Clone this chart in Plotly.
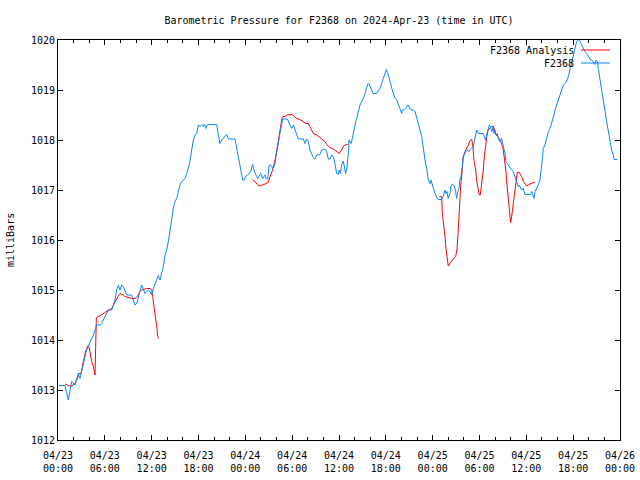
import pandas as pd
import plotly.graph_objects as go

# ---- data (hours after 2024-04-23 00:00 UTC, milliBars) ----
station_pts = [
    (0.1,1013.09),(0.90,1013.09),(1.32,1012.80),(1.54,1013.03),(1.75,1013.17),(2.18,1013.10),(2.39,1013.20),
    (2.60,1013.33),(2.82,1013.23),(2.95,1013.33),(3.12,1013.47),(3.25,1013.53),(3.46,1013.67),(3.67,1013.80),
    (3.89,1013.87),(4.10,1013.93),(4.31,1014.00),(4.53,1014.10),(4.74,1014.20),(4.95,1014.30),(5.38,1014.30),
    (5.59,1014.33),(6.02,1014.47),(6.45,1014.60),(6.88,1014.60),(7.09,1014.73),(7.30,1014.80),(7.52,1015.00),
    (7.73,1015.10),(7.94,1015.00),(8.16,1015.10),(8.37,1015.07),(8.58,1015.00),(8.80,1014.90),(9.44,1014.90),
    (9.65,1014.80),(9.86,1014.70),(10.08,1014.73),(10.29,1014.83),(10.50,1014.97),(10.72,1015.10),(10.93,1015.00),
    (11.15,1014.93),(11.36,1014.97),(11.57,1015.00),(11.79,1014.97),(12.00,1014.90),(12.21,1015.03),(12.43,1015.13),
    (12.64,1015.20),(12.85,1015.29),(13.07,1015.20),(13.28,1015.33),(13.50,1015.47),(13.71,1015.70),(13.92,1015.80),
    (14.14,1015.97),(14.35,1016.20),(14.56,1016.40),(14.78,1016.63),(14.99,1016.77),(15.21,1016.83),(15.42,1016.97),
    (15.63,1017.10),(15.85,1017.17),(16.27,1017.23),(16.49,1017.33),(16.70,1017.47),(16.91,1017.57),(17.13,1017.80),
    (17.34,1018.00),(17.55,1018.10),(17.77,1018.13),(17.98,1018.30),(18.19,1018.27),
    (18.40,1018.30),(18.62,1018.27),(18.70,1018.31),(18.83,1018.30),(18.96,1018.23),(19.13,1018.30),(19.26,1018.31),
    (20.33,1018.31),(20.54,1018.10),(20.75,1017.93),(20.97,1018.00),(21.18,1018.03),(21.39,1018.07),(21.61,1018.11),
    (21.82,1018.03),(22.03,1018.02),(22.68,1018.02),(22.80,1017.87),(22.97,1017.77),(23.10,1017.67),(23.32,1017.47),
    (23.53,1017.30),(23.66,1017.20),(23.83,1017.20),(24.04,1017.27),(24.26,1017.30),(24.51,1017.33),(24.68,1017.37),
    (24.81,1017.47),(24.94,1017.51),(25.11,1017.40),(25.24,1017.33),(25.45,1017.27),(25.58,1017.23),(25.79,1017.30),
    (25.96,1017.33),(26.09,1017.30),(26.22,1017.23),(26.39,1017.27),(26.52,1017.30),(26.65,1017.23),(26.86,1017.22),
    (27.03,1017.47),(27.16,1017.51),(27.37,1017.48),(27.50,1017.43),(27.67,1017.47),(27.80,1017.53),(27.93,1017.70),
    (28.10,1017.80),(28.23,1017.93),(28.36,1018.07),(28.53,1018.23),(28.65,1018.37),(28.78,1018.42),(29.38,1018.42),
    (29.51,1018.38),(29.72,1018.30),(29.93,1018.23),(30.15,1018.30),(30.36,1018.20),(30.57,1018.11),(30.79,1018.02),
    (31.43,1018.02),(31.64,1017.93),(31.85,1018.02),(32.07,1017.97),(32.28,1017.80),(32.50,1017.70),(32.71,1017.65),
    (32.92,1017.62),(33.14,1017.70),(33.56,1017.71),(33.78,1017.80),(34.20,1017.82),(34.42,1017.77),(34.63,1017.62),
    (34.84,1017.62),(35.06,1017.70),(35.27,1017.67),(35.40,1017.60),(35.57,1017.47),(35.70,1017.33),(35.91,1017.31),
    (36.04,1017.40),(36.17,1017.33),(36.34,1017.50),(36.55,1017.58),(36.72,1017.40),(36.85,1017.33),(36.98,1017.40),
    (37.11,1017.57),(37.24,1017.80),
    (37.28,1018.00),(37.41,1017.97),(37.54,1017.93),(37.71,1018.03),(37.84,1018.17),(38.05,1018.30),(38.26,1018.43),
    (38.48,1018.60),(38.69,1018.70),(38.90,1018.77),(39.12,1018.83),(39.33,1018.93),(39.54,1019.03),(39.67,1019.12),
    (39.84,1019.12),(40.10,1019.03),(40.39,1018.93),(40.82,1018.93),(41.04,1018.97),(41.25,1019.03),(41.46,1019.13),
    (41.68,1019.23),(41.89,1019.33),(42.06,1019.41),(42.23,1019.35),(42.40,1019.27),(42.62,1019.13),(42.83,1019.00),
    (43.00,1018.93),(43.18,1018.83),(43.39,1018.80),(43.60,1018.73),(43.81,1018.63),(44.03,1018.53),(44.11,1018.60),
    (44.37,1018.60),(44.54,1018.63),(44.79,1018.70),(44.96,1018.68),(45.09,1018.61),(45.52,1018.60),(45.74,1018.57),
    (45.95,1018.43),(46.16,1018.30),(46.38,1018.20),(46.59,1018.07),(46.81,1017.80),(47.02,1017.60),(47.23,1017.43),
    (47.45,1017.20),(47.66,1017.13),(47.79,1017.20),(47.96,1017.10),(48.08,1017.03),(48.30,1016.93),(48.51,1016.85),
    (48.72,1016.81),(49.15,1016.81),(49.36,1016.87),(49.58,1017.00),(49.70,1016.93),(49.83,1016.97),(50.00,1016.83),
    (50.22,1016.93),(50.34,1017.07),(50.52,1017.12),(50.77,1017.08),(50.94,1016.97),(51.07,1016.83),(51.20,1016.97),
    (51.37,1017.03),(51.49,1017.20),(51.62,1017.27),(51.80,1017.47),(51.92,1017.67),(52.05,1017.70),(52.22,1017.77),
    (52.48,1017.80),(52.65,1017.77),(52.91,1017.83),(53.08,1017.85),(53.21,1017.87),(53.33,1017.97),(53.51,1018.10),
    (53.64,1018.20),(53.85,1018.13),(54.49,1018.13),(54.61,1018.07),(54.78,1018.00),(54.91,1018.10),(55.13,1018.23),
    (55.26,1018.30),
    (55.47,1018.23),(55.60,1018.17),(55.73,1018.27),(55.86,1018.13),(55.99,1018.20),(56.11,1018.10),(56.29,1018.13),
    (56.41,1018.03),(56.63,1017.97),(56.84,1018.03),(56.97,1017.93),(57.14,1017.83),(57.27,1017.73),(57.39,1017.57),
    (57.56,1017.53),(57.69,1017.50),(57.91,1017.43),(58.12,1017.40),(58.33,1017.37),(58.55,1017.27),(58.68,1017.17),
    (58.84,1017.13),(58.97,1017.07),(59.10,1017.10),(59.27,1017.03),(59.40,1017.00),(59.61,1017.03),(59.83,1016.91),
    (60.55,1016.91),(60.68,1016.97),(60.81,1016.93),(60.98,1016.83),(61.11,1016.97),(61.32,1017.03),(61.53,1017.10),
    (61.75,1017.20),(61.96,1017.43),(62.09,1017.67),(62.17,1017.83),(62.39,1017.90),(62.60,1018.03),(62.81,1018.17),
    (63.03,1018.23),(63.24,1018.33),(63.37,1018.40),(63.54,1018.50),(63.67,1018.60),(63.88,1018.70),(64.10,1018.80),
    (64.31,1018.90),(64.52,1019.00),(64.74,1019.10),(64.95,1019.13),(65.16,1019.17),(65.38,1019.27),(65.59,1019.40),
    (65.81,1019.53),(66.02,1019.70),(66.15,1019.80),(66.32,1019.90),(66.44,1019.97),(66.66,1020.00),(66.87,1019.98),
    (67.09,1019.90),(67.30,1019.83),(67.51,1019.77),(67.73,1019.73),(67.94,1019.67),(68.15,1019.62),(68.37,1019.60),
    (68.58,1019.55),(68.79,1019.51),(68.92,1019.60),(69.09,1019.57),(69.22,1019.43),(69.43,1019.20),(69.65,1019.03),
    (69.86,1018.80),(70.08,1018.57),(70.29,1018.37),(70.50,1018.17),(70.72,1017.97),(70.93,1017.80),(71.15,1017.70),
    (71.23,1017.61),(71.66,1017.61),
]

analysis_pts = [
    (0.90,1013.12),(1.32,1013.09),(1.75,1013.08),(1.96,1013.10),(2.18,1013.13),(2.39,1013.19),(2.52,1013.27),
    (2.69,1013.33),(2.95,1013.33),(3.12,1013.47),(3.25,1013.57),(3.46,1013.73),(3.67,1013.83),(3.80,1013.88),
    (3.97,1013.87),(4.10,1013.73),(4.31,1013.57),(4.53,1013.47),(4.65,1013.37),(4.74,1013.30),(4.83,1013.87),
    (4.91,1014.45),(5.17,1014.47),(5.59,1014.50),(6.02,1014.55),(6.45,1014.60),(6.88,1014.63),(7.09,1014.70),
    (7.30,1014.77),(7.52,1014.83),(7.73,1014.88),(7.94,1014.93),(8.16,1014.92),(8.37,1014.90),(8.58,1014.87),
    (9.01,1014.85),(9.44,1014.83),(9.86,1014.83),(10.08,1014.85),(10.29,1014.90),(10.50,1014.97),(10.72,1015.00),
    (10.93,1015.01),(11.36,1015.03),(11.79,1015.03),(12.00,1015.00),(12.13,1014.87),(12.30,1014.70),(12.43,1014.53),
    (12.55,1014.40),(12.68,1014.23),(12.77,1014.07),(12.94,1014.03),
    (18.0,None),
    (24.94,1017.21),(25.24,1017.17),(25.54,1017.11),(25.79,1017.08),(26.09,1017.09),(26.30,1017.11),(26.65,1017.13),
    (26.94,1017.15),(27.07,1017.23),(27.24,1017.30),(27.50,1017.40),(27.67,1017.50),(27.84,1017.62),(28.01,1017.77),
    (28.14,1017.90),(28.27,1018.03),(28.44,1018.20),(28.57,1018.33),(28.69,1018.43),(28.82,1018.47),(29.08,1018.47),
    (29.38,1018.50),(29.72,1018.51),(29.93,1018.51),(30.15,1018.49),(30.36,1018.45),(30.57,1018.43),(31.00,1018.41),
    (31.21,1018.39),(31.43,1018.37),(31.77,1018.33),(32.07,1018.33),(32.28,1018.27),(32.50,1018.18),(32.71,1018.13),
    (33.14,1018.10),(33.56,1018.05),(33.99,1018.01),(34.20,1017.97),(34.42,1017.91),(34.63,1017.88),(34.84,1017.85),
    (35.27,1017.82),(35.70,1017.77),(36.04,1017.73),(36.34,1017.80),(36.55,1017.87),(36.77,1017.90),(36.98,1017.91),
    (37.11,1017.91),
    (42.0,None),
    (48.85,1016.87),(49.15,1016.87),(49.24,1016.53),(49.41,1016.33),(49.58,1016.07),(49.70,1015.83),(49.83,1015.67),
    (50.00,1015.48),(50.22,1015.53),(50.43,1015.58),(50.65,1015.62),(50.94,1015.67),(51.11,1015.80),(51.28,1016.20),
    (51.41,1016.67),(51.58,1017.07),(51.71,1017.27),(51.84,1017.47),(51.92,1017.67),(52.14,1017.77),(52.35,1017.83),
    (52.57,1017.90),(52.78,1017.99),(52.99,1018.01),(53.12,1017.93),(53.29,1017.60),(53.51,1017.40),(53.63,1017.20),
    (53.85,1017.00),(53.97,1016.90),(54.10,1016.90),(54.27,1017.10),(54.49,1017.40),(54.62,1017.67),(54.79,1017.90),
    (54.96,1018.10),(55.13,1018.21),(55.34,1018.23),(55.55,1018.27),(55.77,1018.28),(55.98,1018.17),(56.11,1018.10),
    (56.28,1018.09),(56.41,1018.07),(56.54,1018.03),(56.71,1017.97),(56.83,1017.93),(56.96,1017.87),(57.05,1017.80),
    (57.26,1017.57),(57.39,1017.37),(57.48,1017.17),(57.69,1016.88),(57.82,1016.67),(57.90,1016.50),(57.99,1016.35),
    (58.12,1016.47),(58.25,1016.63),(58.42,1016.80),(58.54,1016.97),(58.67,1017.17),(58.84,1017.35),(59.10,1017.35),
    (59.40,1017.27),(59.61,1017.18),(59.83,1017.12),(60.04,1017.08),(60.47,1017.12),(60.89,1017.15),(61.11,1017.16),
]

start = pd.Timestamp("2024-04-23 00:00")
tick_hours = [0, 6, 12, 18, 24, 30, 36, 42, 48, 54, 60, 66, 72]
tick_labels = ["04/23<br>00:00", "04/23<br>06:00", "04/23<br>12:00", "04/23<br>18:00",
               "04/24<br>00:00", "04/24<br>06:00", "04/24<br>12:00", "04/24<br>18:00",
               "04/25<br>00:00", "04/25<br>06:00", "04/25<br>12:00", "04/25<br>18:00",
               "04/26<br>00:00"]
y_ticks = [1012, 1013, 1014, 1015, 1016, 1017, 1018, 1019, 1020]

def to_time(h):
    return start + pd.Timedelta(hours=h)

FONT = "DejaVu Sans Mono"
RED = "#ff0000"
BLUE = "#0a84ff"

fig = go.Figure()
fig.add_trace(go.Scatter(
    x=[to_time(h) for h, _ in analysis_pts], y=[v for _, v in analysis_pts],
    mode="lines", line=dict(color=RED, width=1), name="F2368 Analysis", connectgaps=False))
fig.add_trace(go.Scatter(
    x=[to_time(h) for h, _ in station_pts], y=[v for _, v in station_pts],
    mode="lines", line=dict(color=BLUE, width=1), name="F2368"))

fig.update_layout(
    width=640, height=480,
    margin=dict(l=58, r=20, t=40, b=40, autoexpand=False),
    paper_bgcolor="white", plot_bgcolor="white",
    showlegend=False,
    font=dict(family=FONT, size=10, color="black"),
    title=dict(text="Barometric Pressure for F2368 on 2024-Apr-23 (time in UTC)",
               x=(58 + 620) / 2 / 640, xanchor="center", y=1 - 20 / 480, yanchor="middle",
               font=dict(family=FONT, size=10, color="black")),
)
fig.update_xaxes(
    type="date", range=[to_time(0), to_time(72)], automargin=False,
    tickmode="array", tickvals=[to_time(h) for h in tick_hours], ticktext=tick_labels,
    ticks="inside", ticklen=5, tickcolor="black", showgrid=False, zeroline=False,
    showline=True, linecolor="black", linewidth=1, mirror="allticks",
    minor=dict(ticks="inside", ticklen=3, tickcolor="black", dtick=2 * 3600 * 1000,
               tick0=to_time(0), showgrid=False),
    tickfont=dict(family=FONT, size=10, color="black"),
    ticklabelstandoff=6,
)
fig.update_yaxes(
    range=[1012, 1020], tickmode="array", tickvals=y_ticks, automargin=False,
    ticks="inside", ticklen=5, tickcolor="black", showgrid=False, zeroline=False,
    showline=True, linecolor="black", linewidth=1, mirror="allticks",
    tickfont=dict(family=FONT, size=10, color="black"),
)

# y-axis title
fig.add_annotation(text="milliBars", xref="paper", yref="paper", x=(10 - 58) / 562, y=0.5,
                   textangle=-90, showarrow=False, xanchor="center", yanchor="middle",
                   font=dict(family=FONT, size=10, color="black"))

# key (gnuplot style: text then line sample)
key = [("F2368 Analysis", RED, 50), ("F2368", BLUE, 63)]
for label, color, py in key:
    yp = (440 - py) / 400
    fig.add_annotation(text=label, xref="paper", yref="paper", x=(576 - 58) / 562, y=yp,
                       showarrow=False, xanchor="right", yanchor="middle",
                       font=dict(family=FONT, size=10, color="black"))
    fig.add_shape(type="line", xref="paper", yref="paper",
                  x0=(581 - 58) / 562, x1=(610 - 58) / 562, y0=yp, y1=yp,
                  line=dict(color=color, width=1))

fig.write_html("out.html", config={"displayModeBar": False},
               post_script="document.body.style.margin='0';")
